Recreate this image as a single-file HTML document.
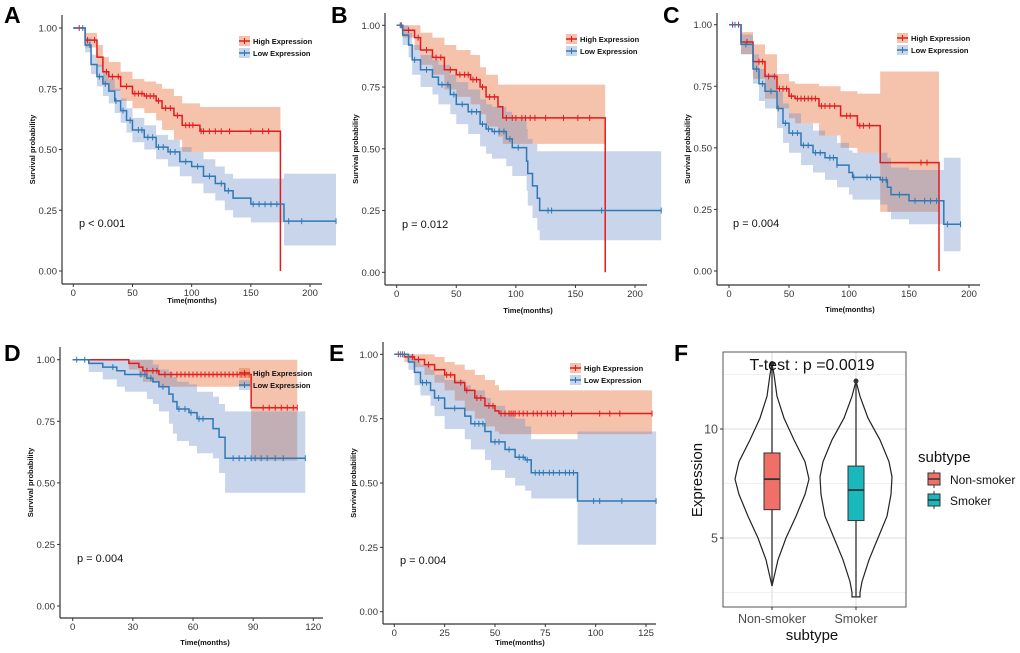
<!DOCTYPE html>
<html><head><meta charset="utf-8"><style>
body{margin:0;background:#fff;}
svg{display:block;font-family:"Liberation Sans",Arial,sans-serif;}
.tk{font-size:9.5px;fill:#333;}
.ttl{font-size:7.5px;font-weight:bold;fill:#111;}
.lg{font-size:7.5px;font-weight:bold;fill:#111;}
.pv{font-size:11px;fill:#111;}
.let{font-size:23px;font-weight:bold;fill:#000;}
</style></head><body>
<svg id="fig" width="1020" height="653" viewBox="0 0 1020 653" xmlns="http://www.w3.org/2000/svg"></svg>
<script>
// ---- Panel A ----
const aHighT=[0,10,20,25,30,40,50,60,70,75,85,92,107,175];
const aHighS=[1,0.95,0.88,0.82,0.80,0.76,0.73,0.72,0.70,0.67,0.64,0.60,0.575,0];
const aHighLo=[1,0.92,0.84,0.77,0.74,0.70,0.67,0.65,0.62,0.58,0.54,0.49,0.49,0.49];
const aHighHi=[1,0.98,0.93,0.88,0.86,0.82,0.79,0.78,0.77,0.75,0.72,0.69,0.675,0.675];
const aHighCens=[5,12,18,28,33,38,45,52,55,58,62,65,68,72,78,82,88,95,98,101,108,110,115,120,125,132,150,160,165];
const aLowT=[0,10,15,20,25,30,35,40,45,50,60,70,80,90,100,110,120,128,135,150,178];
const aLowS=[1,0.93,0.85,0.80,0.77,0.74,0.70,0.66,0.62,0.58,0.55,0.51,0.49,0.45,0.43,0.39,0.36,0.33,0.30,0.275,0.205];
const aLowLo=[1,0.90,0.81,0.76,0.72,0.69,0.65,0.61,0.57,0.53,0.50,0.46,0.43,0.39,0.36,0.32,0.29,0.25,0.22,0.20,0.105];
const aLowHi=[1,0.96,0.89,0.85,0.82,0.79,0.75,0.71,0.67,0.63,0.60,0.56,0.54,0.51,0.49,0.46,0.43,0.40,0.38,0.38,0.40];
const aLowCens=[8,14,22,27,36,42,48,55,58,63,67,72,76,82,86,95,105,115,125,131,152,157,162,167,172,182,193,222];
// ---- Panel B ----
const bHighT=[0,5,15,20,30,40,50,62,70,75,85,89,175];
const bHighS=[1,0.98,0.95,0.90,0.87,0.82,0.80,0.78,0.75,0.71,0.67,0.625,0];
const bHighLo=[1,0.95,0.90,0.84,0.80,0.74,0.71,0.68,0.64,0.59,0.55,0.52,0.52];
const bHighHi=[1,1,1,0.97,0.95,0.92,0.90,0.88,0.83,0.80,0.76,0.76,0.76];
const bHighCens=[3,10,18,25,33,37,45,53,57,60,64,67,72,78,82,92,97,100,105,108,112,116,125,140,152,162];
const bLowT=[0,5,10,13,20,30,35,45,50,60,70,75,80,92,97,109,110,114,118,120];
const bLowS=[1,0.96,0.92,0.86,0.82,0.79,0.76,0.72,0.68,0.65,0.60,0.58,0.57,0.54,0.505,0.45,0.40,0.35,0.30,0.25];
const bLowLo=[1,0.92,0.87,0.80,0.75,0.72,0.68,0.64,0.60,0.56,0.51,0.48,0.46,0.43,0.39,0.33,0.27,0.22,0.17,0.13];
const bLowHi=[1,1,0.97,0.92,0.88,0.86,0.84,0.80,0.77,0.74,0.70,0.68,0.67,0.65,0.62,0.58,0.54,0.52,0.49,0.49];
const bLowCens=[4,15,25,38,43,48,55,63,67,72,77,82,86,90,95,102,127,130,172,222];
// ---- Panel C ----
const cHighT=[0,10,20,30,40,50,55,75,93,107,126,175];
const cHighS=[1,0.93,0.85,0.79,0.74,0.71,0.70,0.67,0.63,0.59,0.44,0];
const cHighLo=[1,0.88,0.78,0.70,0.66,0.62,0.60,0.55,0.50,0.48,0.24,0.24];
const cHighHi=[1,0.97,0.92,0.88,0.80,0.77,0.76,0.75,0.73,0.72,0.81,0.81];
const cHighCens=[3,8,15,25,28,33,38,42,45,48,52,57,60,63,66,69,72,77,80,84,88,98,101,109,112,117,160,165];
const cLowT=[0,10,20,25,30,40,45,50,60,70,80,90,100,103,126,132,135,150,179];
const cLowS=[1,0.92,0.82,0.76,0.73,0.66,0.60,0.56,0.51,0.48,0.46,0.43,0.40,0.38,0.37,0.34,0.31,0.285,0.19];
const cLowLo=[1,0.88,0.76,0.69,0.66,0.58,0.52,0.48,0.43,0.40,0.37,0.34,0.31,0.29,0.27,0.24,0.21,0.19,0.08];
const cLowHi=[1,0.96,0.88,0.82,0.80,0.73,0.68,0.64,0.60,0.57,0.55,0.52,0.49,0.48,0.48,0.46,0.42,0.41,0.46];
const cLowCens=[5,14,23,28,35,41,47,53,57,62,66,72,76,84,87,90,104,115,118,128,131,142,155,163,168,173,182,193];
// ---- Panel D ----
const dHighT=[0,28,33,35,43,89];
const dHighS=[1,0.985,0.97,0.955,0.94,0.805];
const dHighLo=[1,0.96,0.93,0.91,0.89,0.59];
const dHighHi=[1,1,1,1,1,1];
const dHighCens=[37,40,42,46,49,52,54,56,58,60,62,64,66,68,70,72,74,76,78,80,82,84,86,88,95,98,101,104,107,110,112];
const dLowT=[0,8,15,22,26,37,40,43,48,50,52,58,62,70,73,76];
const dLowS=[1,0.985,0.97,0.955,0.94,0.925,0.91,0.89,0.86,0.83,0.80,0.785,0.76,0.72,0.685,0.60];
const dLowLo=[1,0.95,0.92,0.89,0.87,0.84,0.82,0.79,0.74,0.70,0.67,0.65,0.62,0.60,0.54,0.46];
const dLowHi=[1,1,1,1,1,1,0.98,0.96,0.95,0.93,0.91,0.90,0.87,0.85,0.82,0.79];
const dLowCens=[2,6,20,34,36,39,45,53,56,59,63,65,80,83,86,89,91,94,97,101,105,116];
// ---- Panel E ----
const eHighT=[0,5,10,15,20,25,30,35,40,45,50,52];
const eHighS=[1,0.99,0.98,0.96,0.94,0.92,0.89,0.86,0.83,0.80,0.78,0.77];
const eHighLo=[1,0.97,0.95,0.92,0.89,0.86,0.82,0.78,0.75,0.72,0.70,0.69];
const eHighHi=[1,1,1,1,0.99,0.97,0.96,0.94,0.92,0.90,0.88,0.86];
const eHighCens=[2,4,7,9,12,17,26,28,33,36,41,43,47,49,53,55,57,58,59,60,62,64,66,69,71,73,76,78,80,84,88,102,107,112,128];
const eLowT=[0,7,10,13,18,20,25,35,38,45,48,55,60,65,68,91];
const eLowS=[1,0.97,0.93,0.89,0.86,0.83,0.79,0.76,0.73,0.70,0.66,0.63,0.60,0.59,0.54,0.43];
const eLowLo=[1,0.94,0.88,0.84,0.80,0.76,0.71,0.67,0.63,0.59,0.55,0.52,0.49,0.47,0.44,0.26];
const eLowHi=[1,1,0.98,0.96,0.94,0.92,0.90,0.88,0.86,0.83,0.80,0.77,0.75,0.72,0.67,0.70];
const eLowCens=[3,5,14,16,22,30,40,42,44,50,52,57,62,64,66,70,72,74,77,79,82,85,87,89,99,102,113,130];
// ---- Panel F ----
const fGroups=["Non-smoker","Smoker"];
const fYTicks=[5,10];
const fNonV=[2.8,3.2,4,5,6,7,7.7,8.5,9.5,10.5,11.5,12.5,13.0];
const fNonW=[0,2,6,14,24,33,37,33,22,12,5,2,0];
const fSmkV=[2.3,2.5,3,4,5,6,7,7.8,8.5,9.5,10.5,11.5,12.2];
const fSmkW=[4,4,6,13,22,31,35,36,33,24,12,4,0];
const fNonBox=[2.8,6.3,7.7,8.9,13.0];
const fSmkBox=[2.3,5.8,7.2,8.3,12.2];

const NS="http://www.w3.org/2000/svg";
const svg=document.getElementById('fig');
function el(tag,attrs,parent,text){const e=document.createElementNS(NS,tag);for(const k in attrs)e.setAttribute(k,attrs[k]);if(text!==undefined)e.textContent=text;(parent||svg).appendChild(e);return e;}

const RED="#e41a1c", BLUE="#2f78b6";
const RFILL="rgba(232,120,70,0.45)", BFILL="rgba(110,145,200,0.38)";

function stepPath(T,S,endT,xs,ys){
  let d="M"+xs(T[0])+","+ys(S[0]);
  for(let i=1;i<T.length;i++){d+=" H"+xs(T[i])+" V"+ys(S[i]);}
  d+=" H"+xs(endT);return d;
}
function survAt(T,S,t){let s=S[0];for(let i=0;i<T.length;i++){if(T[i]<=t)s=S[i];}return s;}

function km(p){
  const g=el('g',{},svg);
  
  
  const xs=t=>p.x0+t/p.xmax*(p.x1-p.x0);
  const ys=s=>p.y0+s*(p.y1-p.y0);
  const lab=el('text',{x:p.lx,y:p.ly,class:'let'},g,p.id);
  
  
  p.curves.forEach(c=>{
    let top="M"+xs(c.T[0])+","+ys(c.hi[0]);
    for(let i=1;i<c.T.length;i++)top+=" H"+xs(c.T[i])+" V"+ys(c.hi[i]);
    top+=" H"+xs(c.bandEnd);
    let bot=" V"+ys(c.lo[c.lo.length-1]);
    for(let i=c.T.length-1;i>=1;i--)bot+=" H"+xs(c.T[i])+" V"+ys(c.lo[i-1]);
    bot+=" H"+xs(c.T[0])+" Z";
    const b=el('path',{d:top+bot,fill:c.fill,stroke:'none'},g);
    
    
  });
  p.curves.forEach(c=>{
    const l=el('path',{d:stepPath(c.T,c.S,c.end,xs,ys),fill:'none',stroke:c.col,'stroke-width':1.5},g);
    
    
    c.cens.forEach(t=>{
      const y=ys(survAt(c.T,c.S,t));
      const m=el('line',{x1:xs(t),x2:xs(t),y1:y-3,y2:y+3,stroke:c.col,'stroke-width':1},g);
      
      
    });
  });
  const ya=el('line',{x1:p.ax,x2:p.ax,y1:p.atop,y2:p.ay,stroke:'#333','stroke-width':1.2},g);
  
  const xa=el('line',{x1:p.ax,x2:p.aright,y1:p.ay,y2:p.ay,stroke:'#333','stroke-width':1.2},g);
  
  [0,0.25,0.5,0.75,1].forEach(v=>{
    el('line',{x1:p.ax-3,x2:p.ax,y1:ys(v),y2:ys(v),stroke:'#333'},g);
    const t=el('text',{x:p.ax-5,y:ys(v)+3.5,class:'tk','text-anchor':'end'},g,v.toFixed(2));
    
  });
  p.xt.forEach(v=>{
    el('line',{x1:xs(v),x2:xs(v),y1:p.ay,y2:p.ay+3,stroke:'#333'},g);
    const t=el('text',{x:xs(v),y:p.ay+12,class:'tk','text-anchor':'middle'},g,String(v));
    
  });
  const xt=el('text',{x:p.tx,y:p.ty,class:'ttl','text-anchor':'middle'},g,'Time(months)');
  
  const cy=(p.atop+p.ay)/2;
  const tx0=p.ax-27;
  const yt=el('text',{x:tx0,y:cy,class:'ttl','text-anchor':'middle',transform:'rotate(-90 '+tx0+' '+cy+')'},g,'Survival probability');
  
  const pv=el('text',{x:p.px,y:p.py,class:'pv'},g,p.pText);
  
  [['High Expression',RED,RFILL,'legend-high'],['Low Expression',BLUE,BFILL,'legend-low']].forEach((e,i)=>{
    const yy=p.legY+i*12;
    const lg=el('g',{},g);
    
    el('rect',{x:p.legX,y:yy-5,width:11,height:10,fill:e[2]},lg);
    el('line',{x1:p.legX,x2:p.legX+11,y1:yy,y2:yy,stroke:e[1],'stroke-width':1.5},lg);
    el('line',{x1:p.legX+5.5,x2:p.legX+5.5,y1:yy-3,y2:yy+3,stroke:e[1]},lg);
    el('text',{x:p.legX+14,y:yy+3,class:'lg'},lg,e[0]);
  });
}
function mk(name,col,fill,T,S,lo,hi,cens,end,bandEnd){return {name,col,fill,T,S,lo,hi,cens,end,bandEnd};}

km({id:'A',lx:4,ly:23,x0:73.3,x1:310,xmax:200,y0:271,y1:28,ax:62,atop:15,ay:284,aright:322,xt:[0,50,100,150,200],
  tx:192,ty:303,px:79,py:227,pText:'p < 0.001',legX:239,legY:41,
  curves:[mk('a-high',RED,RFILL,aHighT,aHighS,aHighLo,aHighHi,aHighCens,175,175),
          mk('a-low',BLUE,BFILL,aLowT,aLowS,aLowLo,aLowHi,aLowCens,222,222)]});
km({id:'B',lx:331,ly:23,x0:396.7,x1:635,xmax:200,y0:272.3,y1:25.3,ax:385,atop:13,ay:285,aright:647,xt:[0,50,100,150,200],
  tx:528,ty:313,px:402,py:228,pText:'p = 0.012',legX:566,legY:39,
  curves:[mk('b-high',RED,RFILL,bHighT,bHighS,bHighLo,bHighHi,bHighCens,175,175),
          mk('b-low',BLUE,BFILL,bLowT,bLowS,bLowLo,bLowHi,bLowCens,222,222)]});
km({id:'C',lx:663,ly:23,x0:729,x1:969,xmax:200,y0:271,y1:24.7,ax:717,atop:13,ay:285,aright:980,xt:[0,50,100,150,200],
  tx:850,ty:312,px:733,py:227,pText:'p = 0.004',legX:897,legY:38,
  curves:[mk('c-high',RED,RFILL,cHighT,cHighS,cHighLo,cHighHi,cHighCens,175,175),
          mk('c-low',BLUE,BFILL,cLowT,cLowS,cLowLo,cLowHi,cLowCens,193,193)]});
km({id:'D',lx:4,ly:361,x0:72.7,x1:313.3,xmax:120,y0:606,y1:359.7,ax:60,atop:347,ay:618,aright:323,xt:[0,30,60,90,120],
  tx:205,ty:645,px:77,py:562,pText:'p = 0.004',legX:239,legY:373,
  curves:[mk('d-high',RED,RFILL,dHighT,dHighS,dHighLo,dHighHi,dHighCens,112,112),
          mk('d-low',BLUE,BFILL,dLowT,dLowS,dLowLo,dLowHi,dLowCens,116,116)]});
km({id:'E',lx:329,ly:361,x0:394.3,x1:646,xmax:125,y0:611.7,y1:354.3,ax:383,atop:342,ay:624,aright:656,xt:[0,25,50,75,100,125],
  tx:520,ty:645,px:400,py:564,pText:'p = 0.004',legX:570,legY:368,
  curves:[mk('e-high',RED,RFILL,eHighT,eHighS,eHighLo,eHighHi,eHighCens,128,128),
          mk('e-low',BLUE,BFILL,eLowT,eLowS,eLowLo,eLowHi,eLowCens,130,130)]});

(function(){
  const g=el('g',{},svg);
  
  const L=723,R=906,T=352,B=607;
  const ys=v=>429-(v-10)*21.8;
  const xc=[772,856];
  const lab=el('text',{x:674,y:361,class:'let'},g,'F');
  
  el('rect',{x:L,y:T,width:R-L,height:B-T,fill:'#fff'},g);
  [2.5,7.5,12.5].forEach(v=>el('line',{x1:L,x2:R,y1:ys(v),y2:ys(v),stroke:'#ececec','stroke-width':0.8},g));
  fYTicks.forEach(v=>el('line',{x1:L,x2:R,y1:ys(v),y2:ys(v),stroke:'#e3e3e3','stroke-width':1.3},g));
  xc.forEach(x=>el('line',{x1:x,x2:x,y1:T,y2:B,stroke:'#e3e3e3','stroke-width':1.3},g));
  const vdat=[[fNonV,fNonW,fNonBox,'#f07068'],[fSmkV,fSmkW,fSmkBox,'#18b8bc']];
  vdat.forEach((d,i)=>{
    const cx=xc[i];let pts=[];
    for(let k=0;k<d[0].length;k++)pts.push((cx+d[1][k])+","+ys(d[0][k]));
    for(let k=d[0].length-1;k>=0;k--)pts.push((cx-d[1][k])+","+ys(d[0][k]));
    const v=el('polygon',{points:pts.join(' '),fill:'none',stroke:'#222','stroke-width':1.2},g);
    
    const bx=d[2];
    el('line',{x1:cx,x2:cx,y1:ys(bx[0]),y2:ys(bx[4]),stroke:'#333','stroke-width':1.3},g);
    const r=el('rect',{x:cx-8,y:ys(bx[3]),width:16,height:ys(bx[1])-ys(bx[3]),fill:d[3],stroke:'#333','stroke-width':1},g);
    
    el('line',{x1:cx-8,x2:cx+8,y1:ys(bx[2]),y2:ys(bx[2]),stroke:'#333','stroke-width':1.8},g);
    el('circle',{cx:cx,cy:ys(bx[4]),r:2.5,fill:'#333'},g);
  });
  el('rect',{x:L,y:T,width:R-L,height:B-T,fill:'none',stroke:'#555','stroke-width':1},g);
  const tt=el('text',{x:812,y:370,'font-size':16,fill:'#111','text-anchor':'middle'},g,'T-test : p =0.0019');
  
  fYTicks.forEach(v=>{
    el('line',{x1:L-3,x2:L,y1:ys(v),y2:ys(v),stroke:'#333'},g);
    const t=el('text',{x:L-5,y:ys(v)+4.5,'font-size':12.5,fill:'#4d4d4d','text-anchor':'end'},g,String(v));
    
  });
  fGroups.forEach((n,i)=>{
    el('line',{x1:xc[i],x2:xc[i],y1:B,y2:B+3,stroke:'#333'},g);
    const t=el('text',{x:xc[i],y:623,'font-size':12.5,fill:'#4d4d4d','text-anchor':'middle'},g,n);
    
  });
  const xt=el('text',{x:812,y:640,'font-size':15,fill:'#111','text-anchor':'middle'},g,'subtype');
  
  const yt=el('text',{x:702,y:480,'font-size':15,fill:'#111','text-anchor':'middle',transform:'rotate(-90 702 480)'},g,'Expression');
  
  const lt=el('text',{x:918,y:462,'font-size':15,fill:'#111'},g,'subtype');
  
  [['Non-smoker','#f07068',479],['Smoker','#18b8bc',500]].forEach((e,i)=>{
    const lg=el('g',{},g);
    
    el('line',{x1:934,x2:934,y1:e[2]-9,y2:e[2]+9,stroke:'#333'},lg);
    el('rect',{x:928,y:e[2]-6,width:12,height:12,fill:e[1],stroke:'#333'},lg);
    el('line',{x1:928,x2:940,y1:e[2],y2:e[2],stroke:'#333','stroke-width':1.5},lg);
    el('text',{x:950,y:e[2]+5,'font-size':12,fill:'#111'},lg,e[0]);
  });
})();
</script>
</body></html>
